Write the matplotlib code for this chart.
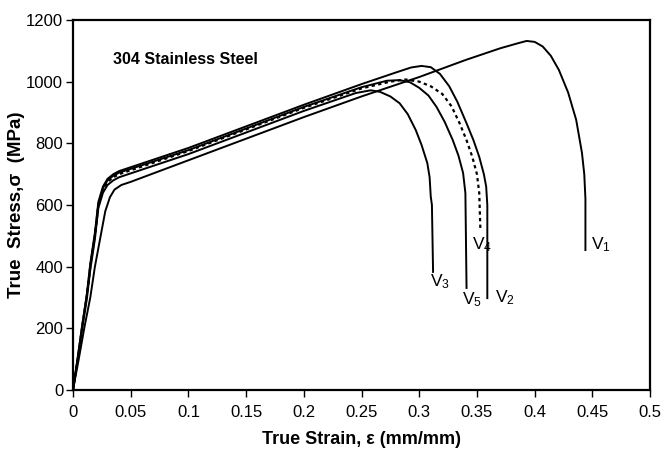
import matplotlib
matplotlib.use("Agg")
from matplotlib import pyplot as plt
from matplotlib import font_manager

# strain (mm/mm) / true stress (MPa)
v1_strain = [0, 0.005, 0.010, 0.015, 0.019, 0.024, 0.028, 0.032, 0.036, 0.042, 0.050,
             0.100, 0.150, 0.200, 0.250, 0.300, 0.340, 0.370, 0.385, 0.393,
             0.400, 0.407, 0.414, 0.421, 0.429, 0.436, 0.441, 0.443, 0.444, 0.444]
v1_stress = [0, 100, 205, 300, 400, 500, 580, 625, 650, 665, 675,
             745, 815, 885, 952, 1015, 1070, 1108, 1124, 1132,
             1129, 1114, 1084, 1038, 965, 876, 769, 700, 620, 454]

v2_strain = [0, 0.004, 0.008, 0.012, 0.015, 0.019, 0.022, 0.026, 0.030, 0.035, 0.040,
             0.100, 0.150, 0.200, 0.250, 0.280, 0.293, 0.302,
             0.310, 0.318, 0.326, 0.333, 0.341, 0.347, 0.352, 0.356, 0.358, 0.359, 0.359]
v2_stress = [0, 100, 210, 310, 410, 510, 610, 660, 685, 700, 710,
             785, 855, 925, 992, 1030, 1046, 1051,
             1047, 1025, 985, 935, 865, 810, 756, 700, 660, 600, 298]

v3_strain = [0, 0.004, 0.008, 0.012, 0.015, 0.019, 0.022, 0.026, 0.030, 0.035, 0.040,
             0.100, 0.150, 0.200, 0.245, 0.258,
             0.266, 0.275, 0.283, 0.290, 0.297, 0.302, 0.307, 0.309, 0.310, 0.311, 0.312]
v3_stress = [0, 100, 200, 295, 390, 490, 590, 640, 665, 680, 690,
             765, 835, 905, 963, 972,
             967, 952, 930, 895, 843, 795, 736, 690, 627, 600, 383]

v4_strain = [0, 0.004, 0.008, 0.012, 0.015, 0.019, 0.022, 0.026, 0.030, 0.035, 0.040,
             0.100, 0.150, 0.200, 0.250, 0.275, 0.288,
             0.300, 0.310, 0.320, 0.328, 0.335, 0.341, 0.346, 0.350, 0.352, 0.353]
v4_stress = [0, 100, 205, 305, 400, 500, 600, 650, 675, 690, 700,
             775, 845, 915, 978, 1000, 1007,
             1000, 985, 960, 920, 865, 810, 756, 700, 639, 519]

v5_strain = [0, 0.004, 0.008, 0.012, 0.015, 0.019, 0.022, 0.026, 0.030, 0.035, 0.040,
             0.100, 0.150, 0.200, 0.250, 0.272, 0.283,
             0.292, 0.300, 0.308, 0.315, 0.322, 0.329, 0.334, 0.338, 0.340, 0.341]
v5_stress = [0, 100, 205, 305, 400, 500, 600, 655, 680, 695, 705,
             778, 848, 918, 982, 1003, 1005,
             998, 980, 955, 918, 870, 811, 760, 704, 639, 331]

labels = ["V$_1$", "V$_2$", "V$_3$", "V$_4$", "V$_5$"]
label_xy = [(0.449, 470), (0.366, 298), (0.309, 350), (0.346, 470), (0.337, 292)]

xticks = [0, 0.05, 0.1, 0.15, 0.2, 0.25, 0.3, 0.35, 0.4, 0.45, 0.5]
xticklabels = ["0", "0.05", "0.1", "0.15", "0.2", "0.25", "0.3", "0.35", "0.4", "0.45", "0.5"]
yticks = [0, 200, 400, 600, 800, 1000, 1200]

names = {f.name for f in font_manager.fontManager.ttflist}
narrow = "Liberation Sans Narrow" if "Liberation Sans Narrow" in names else "Liberation Sans"

plt.rcParams["font.family"] = [narrow, "DejaVu Sans"]
plt.rcParams["mathtext.default"] = "regular"

fig = plt.figure(figsize=(6.67, 4.5), dpi=100)
ax = fig.add_axes([0.1094, 0.1333, 0.8652, 0.8223])

ax.plot(v1_strain, v1_stress, color="black", lw=1.4)
ax.plot(v2_strain, v2_stress, color="black", lw=1.4)
ax.plot(v3_strain, v3_stress, color="black", lw=1.4)
ax.plot(v5_strain, v5_stress, color="black", lw=1.4)
ax.plot(v4_strain, v4_stress, color="black", lw=1.6, linestyle=(0, (1.5, 1.5)))

for lab, (x, y) in zip(labels, label_xy):
    ax.text(x, y, lab, fontsize=12.5, ha="left", va="center")

ax.text(0.035, 1073, "304 Stainless Steel", fontsize=11.5, fontweight="bold",
        family=["Liberation Sans", "DejaVu Sans"], ha="left", va="center")

ax.set_xlim(0, 0.5)
ax.set_ylim(0, 1200)
ax.set_xticks(xticks)
ax.set_xticklabels(xticklabels)
ax.set_yticks(yticks)
ax.tick_params(labelsize=12, length=5, width=1, direction="out")
ax.tick_params(axis="y", pad=2)
ax.tick_params(axis="x", pad=6)

for s in ax.spines.values():
    s.set_linewidth(1.6)

ax.set_xlabel("True Strain, ε (mm/mm)", fontsize=13, fontweight="bold", labelpad=8)
ax.set_ylabel("True  Stress,σ  (MPa)", fontsize=13.5, fontweight="bold",
              family=["Liberation Sans", "DejaVu Sans"], va="center")
ax.yaxis.set_label_coords(-0.097, 0.5)

fig.savefig("out.png", dpi=100)
